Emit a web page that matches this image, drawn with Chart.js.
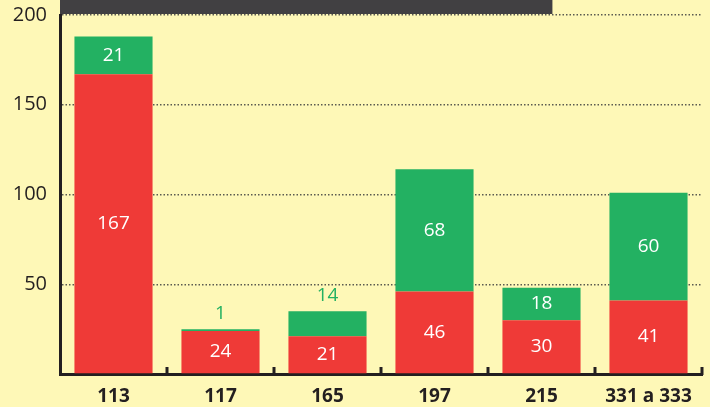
<!DOCTYPE html>
<html>
<head>
<meta charset="utf-8">
<script src="https://cdn.jsdelivr.net/npm/chart.js@4/dist/chart.umd.min.js"></script>
<style>
  html, body { margin: 0; padding: 0; background: #fef8b7; }
  #wrap { width: 710px; height: 407px; }
</style>
</head>
<body>
<div id="wrap"><canvas id="c" width="710" height="407"></canvas></div>
<script>
const categories = ["113", "117", "165", "197", "215", "331 a 333"];
const redValues = [167, 24, 21, 46, 30, 41];
const greenValues = [21, 1, 14, 68, 18, 60];
const yTicks = [50, 100, 150, 200];

const RED = "#ef3a37";
const GREEN = "#23b162";
const INK = "#231f20";
const FONT = "'Open Sans', 'Noto Sans', sans-serif";

// tmavý pruh nahoře + tick marky mezi kategoriemi + popisky hodnot
const decor = {
  id: "decor",
  beforeDraw(chart) {
    const { ctx, chartArea } = chart;
    ctx.save();
    ctx.fillStyle = "#414042";
    ctx.fillRect(chartArea.left, 0, (chartArea.right - chartArea.left) * 0.767, chartArea.top - 1);
    ctx.restore();
  },
  afterDatasetsDraw(chart) {
    const { ctx } = chart;
    ctx.save();
    ctx.font = "19px " + FONT;
    ctx.textAlign = "center";
    ctx.textBaseline = "middle";
    chart.data.datasets.forEach((ds, di) => {
      chart.getDatasetMeta(di).data.forEach((bar, i) => {
        const v = ds.data[i];
        const h = bar.base - bar.y;
        if (h > 28) {
          ctx.fillStyle = "#ffffff";
          ctx.fillText(v, bar.x, (bar.y + bar.base) / 2);
        } else {
          ctx.fillStyle = ds.backgroundColor;
          ctx.fillText(v, bar.x, bar.y - 16);
        }
      });
    });
    ctx.restore();
  },
  afterDraw(chart) {
    const { ctx } = chart;
    const x = chart.scales.x;
    const bottom = chart.chartArea.bottom;
    const step = x.getPixelForValue(1) - x.getPixelForValue(0);
    ctx.save();
    ctx.strokeStyle = INK;
    ctx.lineWidth = 3;
    for (let i = 0; i < categories.length; i++) {
      const px = Math.round(x.getPixelForValue(i) + step / 2);
      ctx.beginPath();
      ctx.moveTo(px, bottom + 1);
      ctx.lineTo(px, bottom - 7);
      ctx.stroke();
    }
    ctx.restore();
  }
};

new Chart(document.getElementById("c"), {
  type: "bar",
  data: {
    labels: categories,
    datasets: [
      { label: "red", data: redValues, backgroundColor: RED, borderWidth: 0 },
      { label: "green", data: greenValues, backgroundColor: GREEN, borderWidth: 0 }
    ]
  },
  options: {
    responsive: false,
    animation: false,
    devicePixelRatio: 1,
    layout: { padding: { top: 15, right: 8, left: 0, bottom: 0 } },
    plugins: { legend: { display: false }, tooltip: { enabled: false } },
    datasets: { bar: { categoryPercentage: 1, barPercentage: 0.73 } },
    scales: {
      x: {
        stacked: true,
        grid: { display: false },
        border: { display: true, color: INK, width: 3 },
        ticks: { color: INK, font: { family: FONT, size: 19, weight: "bold" }, padding: 3 },
        afterFit(s) { s.height = 33; s.paddingLeft = 0; s.paddingRight = 0; }
      },
      y: {
        stacked: true,
        min: 0,
        max: 200,
        z: 1,
        afterBuildTicks(s) { s.ticks = [0, ...yTicks].map(v => ({ value: v })); },
        ticks: {
          color: INK,
          font: { family: FONT, size: 20 },
          padding: 13,
          callback: v => (v === 0 ? "" : v)
        },
        grid: { color: "#5a5a50", lineWidth: 1.5, drawTicks: false },
        border: { display: true, color: INK, width: 3, dash: [1.5, 2] },
        afterFit(s) { s.width = 60; s.paddingTop = 0; s.paddingBottom = 0; }
      }
    }
  },
  plugins: [decor]
});
</script>
</body>
</html>
